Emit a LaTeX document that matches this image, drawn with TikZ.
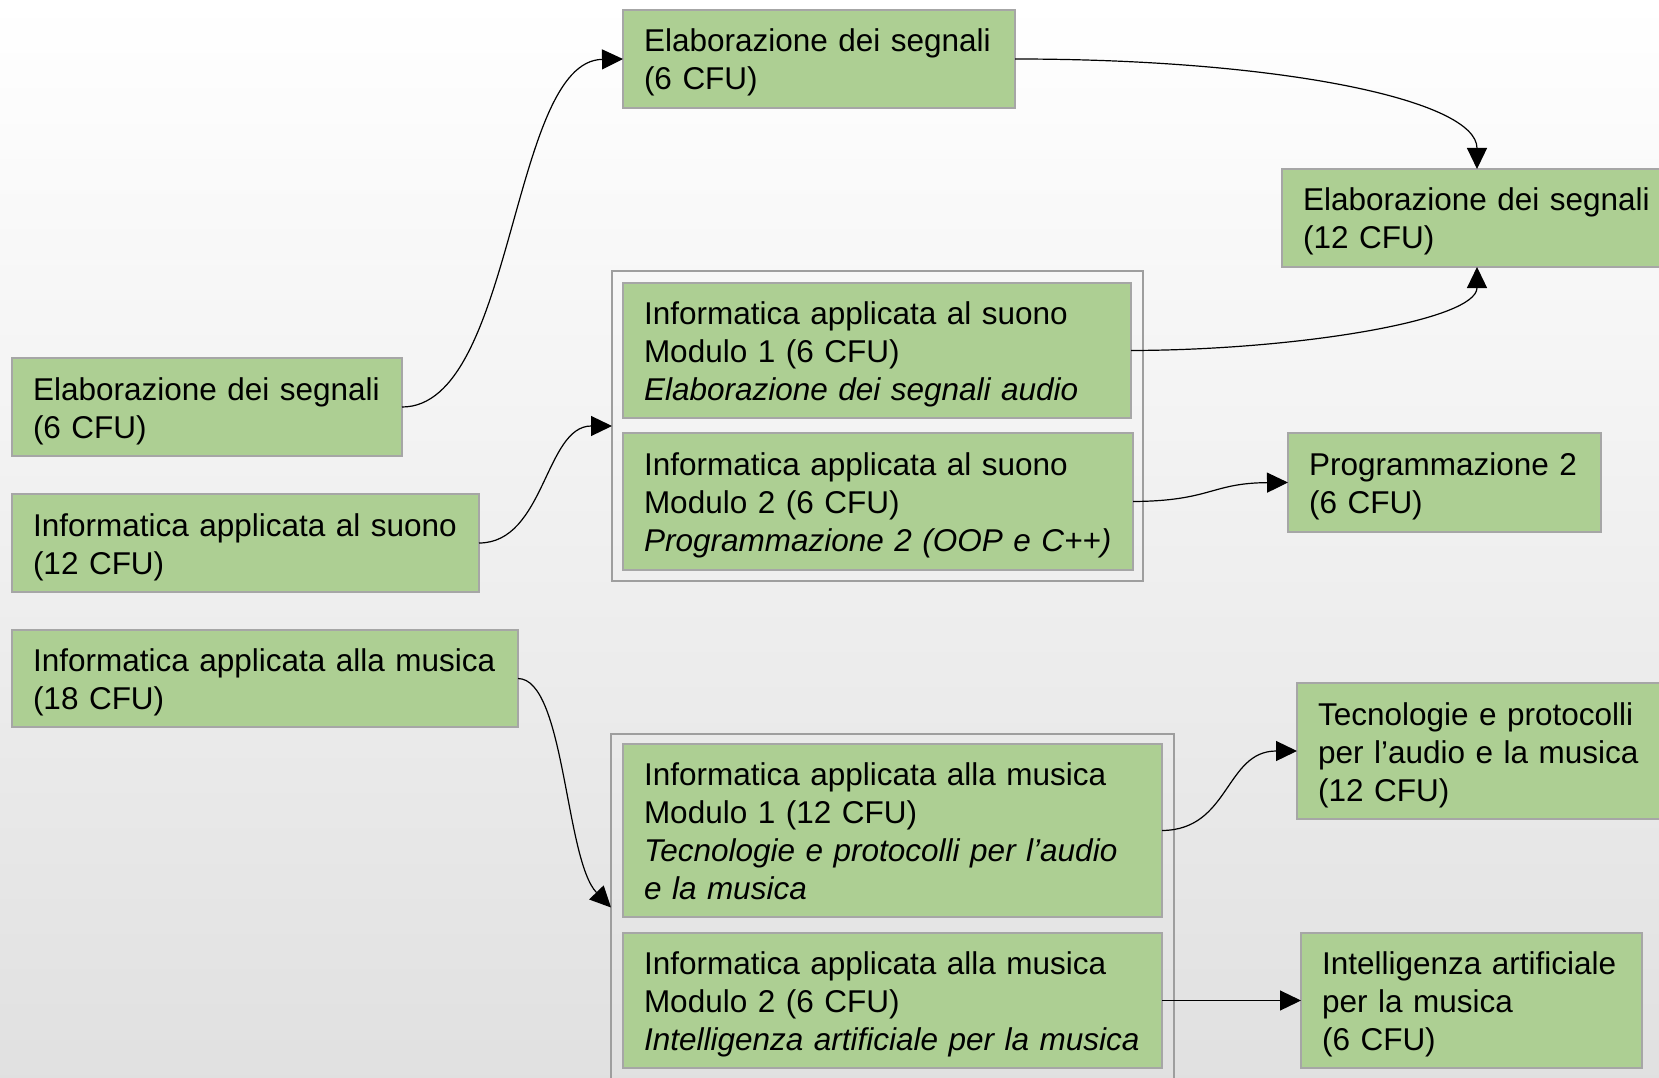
\documentclass[tikz,border=0pt]{standalone}
\usepackage{fontspec}
\setmainfont{Liberation Sans}
\usetikzlibrary{arrows.meta}
\definecolor{boxgreen}{RGB}{173,207,147}
\definecolor{boxline}{RGB}{166,166,166}
\definecolor{grpline}{RGB}{158,158,158}
\begin{document}
\begin{tikzpicture}[x=1pt,y=-1pt,
  box/.style={draw=boxline, line width=2.4pt, fill=boxgreen, anchor=north west,
    inner xsep=21pt, inner ysep=0pt, align=left, outer sep=0pt,
    font=\fontsize{31.5}{38}\selectfont,
    execute at begin node=\rule{0pt}{32pt},
    execute at end node=\rule[-8pt]{0pt}{8pt}},
  grp/.style={draw=grpline, line width=2pt, anchor=north west, inner sep=0pt, outer sep=0pt},
  arr/.style={-{Triangle[length=21pt,width=20pt]}, line width=1.2pt, black}]
\useasboundingbox (0,0) rectangle (1659,1078);
\clip (0,0) rectangle (1659,1078);
\shade[top color=white, middle color=gray!8, bottom color=gray!24] (0,0) rectangle (1659,1078);

% groups
\node[grp, minimum width=531pt, minimum height=310pt] (grp1) at (612,271) {};
\node[grp, minimum width=563pt, minimum height=347pt] (grp2) at (611,734) {};

% boxes
\node[box, minimum width=392pt, minimum height=98pt, text width=350pt] (A) at (623,10)
  {\mbox{Elaborazione dei segnali}\\\mbox{(6 CFU)}};
\node[box, minimum width=390pt, minimum height=98pt, text width=348pt] (B) at (1282,169)
  {\mbox{Elaborazione dei segnali}\\\mbox{(12 CFU)}};
\node[box, minimum width=508pt, minimum height=135pt, text width=466pt] (C1) at (623,283)
  {\mbox{Informatica applicata al suono}\\\mbox{Modulo 1 (6 CFU)}\\\mbox{\itshape Elaborazione dei segnali audio}};
\node[box, minimum width=510pt, minimum height=137pt, text width=468pt] (C2) at (623,433)
  {\mbox{Informatica applicata al suono}\\\mbox{Modulo 2 (6 CFU)}\\\mbox{\itshape Programmazione 2 (OOP e C++)}};
\node[box, minimum width=390pt, minimum height=98pt, text width=348pt] (D) at (12,358)
  {\mbox{Elaborazione dei segnali}\\\mbox{(6 CFU)}};
\node[box, minimum width=467pt, minimum height=98pt, text width=425pt] (E) at (12,494)
  {\mbox{Informatica applicata al suono}\\\mbox{(12 CFU)}};
\node[box, minimum width=506pt, minimum height=97pt, text width=464pt] (F) at (12,630)
  {\mbox{Informatica applicata alla musica}\\\mbox{(18 CFU)}};
\node[box, minimum width=313pt, minimum height=99pt, text width=271pt] (G) at (1288,433)
  {\mbox{Programmazione 2}\\\mbox{(6 CFU)}};
\node[box, minimum width=539pt, minimum height=173pt, text width=497pt] (H1) at (623,744)
  {\mbox{Informatica applicata alla musica}\\\mbox{Modulo 1 (12 CFU)}\\\mbox{\itshape Tecnologie e protocolli per l’audio}\\\mbox{\itshape e la musica}};
\node[box, minimum width=539pt, minimum height=135pt, text width=497pt] (H2) at (623,933)
  {\mbox{Informatica applicata alla musica}\\\mbox{Modulo 2 (6 CFU)}\\\mbox{\itshape Intelligenza artificiale per la musica}};
\node[box, minimum width=400pt, minimum height=136pt, text width=358pt] (I) at (1297,683)
  {\mbox{Tecnologie e protocolli}\\\mbox{per l’audio e la musica}\\\mbox{(12 CFU)}};
\node[box, minimum width=341pt, minimum height=135pt, text width=299pt] (J) at (1301,933)
  {\mbox{Intelligenza artificiale}\\\mbox{per la musica}\\\mbox{(6 CFU)}};

% connectors
\draw[arr] (D.east) .. controls (515,407) and (510,61) .. (A.west);
\draw[arr] (E.east) .. controls (545,543) and (545,426) .. (grp1.west);
\draw[arr] (A.east) .. controls (1280,59) and (1477,100) .. (B.north);
\draw[arr] (C1.east) .. controls (1300,350) and (1477,320) .. (B.south);
\draw[arr] (C2.east) .. controls (1211,501) and (1211,483) .. (G.west);
\draw[arr] (F.east) .. controls (565,679) and (565,860) .. (grp2.west);
\draw[arr] (H1.east) .. controls (1230,830) and (1225,751) .. (I.west);
\draw[arr] (H2.east) -- (J.west);
\end{tikzpicture}
\end{document}
